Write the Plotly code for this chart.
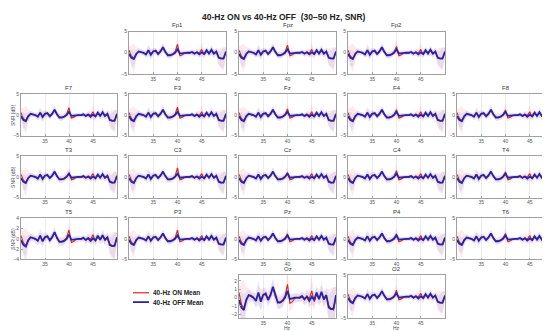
import plotly.graph_objects as go

# ---------------- data ----------------
freqs = [30 + 0.5 * i for i in range(41)]

off_mean = [-0.3, -1.2, -1.5, -0.3, 0.3, 0.2, 0.0, -0.4, 0.6, -0.5,
            0.3, 0.5, -0.3, 0.3, 1.3, 0.2, -0.6, -0.6, -0.4, 0.0,
            0.8, -0.2, -0.1, 0.0, 0.0, 0.0, 0.2, -0.2, 0.1, -0.4,
            0.1, -0.3, 0.6, -0.2, 0.7, -0.2, 0.3, -1.2, -1.4, -1.3, 0.3]
on_mean = [0.6, -0.8, -1.3, -0.2, 0.3, 0.1, 0.0, -0.3, 0.5, -0.3,
           0.4, 0.3, -0.1, 0.4, 1.2, 0.1, -0.5, -0.5, -0.3, 0.2,
           2.0, -0.7, -0.5, -0.1, 0.0, -0.1, 0.1, -0.3, 0.2, -0.1,
           0.8, -0.5, 0.4, -0.1, 0.5, -0.3, 0.2, -1.0, -1.3, -1.5, 0.2]
on_sd = [1.0, 2.5, 3.5, 1.5, 0.8, 0.6, 0.6, 0.9, 1.0, 1.2,
         0.8, 0.7, 0.8, 0.8, 1.0, 0.7, 0.8, 0.9, 0.8, 0.8,
         1.5, 1.0, 0.8, 0.6, 0.5, 0.5, 0.6, 0.7, 0.8, 1.0,
         1.6, 1.0, 0.8, 0.8, 1.0, 0.9, 0.9, 2.0, 2.5, 2.8, 1.0]
off_sd = [0.8, 2.0, 1.8, 1.0, 0.7, 0.6, 0.6, 0.8, 1.5, 1.2,
          0.8, 0.7, 0.8, 0.8, 1.0, 0.8, 0.8, 0.7, 0.7, 0.7,
          0.9, 0.7, 0.6, 0.5, 0.5, 0.5, 0.6, 0.7, 0.7, 0.8,
          0.9, 0.8, 0.8, 0.8, 1.2, 0.9, 0.8, 1.5, 2.0, 2.5, 1.0]

channels = ["Fp1", "Fpz", "Fp2",
            "F7", "F3", "Fz", "F4", "F8",
            "T3", "C3", "Cz", "C4", "T4",
            "T5", "P3", "Pz", "P4", "T6",
            "Oz", "O2"]
grid_rows = [0, 0, 0, 1, 1, 1, 1, 1, 2, 2, 2, 2, 2, 3, 3, 3, 3, 3, 4, 4]
grid_cols = [1, 2, 3, 0, 1, 2, 3, 4, 0, 1, 2, 3, 4, 0, 1, 2, 3, 4, 2, 3]
on_peak_40 = [2.0, 1.8, 1.5, 1.8, 1.9, 1.5, 1.3, 1.2, 1.0, 2.2,
              1.0, 1.5, 1.2, 1.7, 2.1, 1.2, 1.2, 1.3, 1.6, 1.5]
y_ranges = {"T5": [-4, 4], "Oz": [-2.5, 2.7]}
y_ticks = {"T5": [-4, -2, 0, 2, 4], "Oz": [-2, -1, 0, 1, 2]}
default_range = [-5, 5]
default_ticks = [-5, 0, 5]
x_ticks = [35, 40, 45]

title_text = "40-Hz ON vs 40-Hz OFF  (30\u201350 Hz, SNR)"
legend_labels = ["40-Hz ON Mean", "40-Hz OFF Mean"]

# ---------------- styling / layout geometry ----------------
W, H = 550, 331
col_px = [(13, 109), (121, 218), (231, 328), (340, 437), (449, 546)]
row_px = [(21, 64), (85, 127), (148, 190), (211, 253), (269, 313)]
RED = "rgb(205,40,40)"
BLUE = "rgb(40,35,165)"
RED_FILL = "rgba(235,90,90,0.12)"
BLUE_FILL = "rgba(90,110,235,0.12)"
FONT = "Liberation Sans, Arial, sans-serif"

fig = go.Figure()
layout = dict(
    width=W, height=H, margin=dict(l=0, r=0, t=0, b=0),
    paper_bgcolor="white", plot_bgcolor="white", showlegend=False,
    font=dict(family=FONT, size=5, color="#444"),
)
annotations = []
shapes = []

for k, ch in enumerate(channels):
    idx = k + 1
    xa = "x" if idx == 1 else f"x{idx}"
    ya = "y" if idx == 1 else f"y{idx}"
    r, c = grid_rows[k], grid_cols[k]
    x0, x1 = col_px[c]
    y0, y1 = row_px[r]

    on = list(on_mean)
    on[20] = on_peak_40[k]
    on_hi = [m + s for m, s in zip(on, on_sd)]
    on_lo = [m - s for m, s in zip(on, on_sd)]
    off_hi = [m + s for m, s in zip(off_mean, off_sd)]
    off_lo = [m - s for m, s in zip(off_mean, off_sd)]

    fig.add_trace(go.Scatter(x=freqs + freqs[::-1], y=on_hi + on_lo[::-1],
                             fill="toself", fillcolor=RED_FILL, line=dict(width=0),
                             mode="lines", hoverinfo="skip", xaxis=xa, yaxis=ya))
    fig.add_trace(go.Scatter(x=freqs + freqs[::-1], y=off_hi + off_lo[::-1],
                             fill="toself", fillcolor=BLUE_FILL, line=dict(width=0),
                             mode="lines", hoverinfo="skip", xaxis=xa, yaxis=ya))
    fig.add_trace(go.Scatter(x=freqs, y=on, mode="lines",
                             line=dict(color=RED, width=1.1), xaxis=xa, yaxis=ya))
    fig.add_trace(go.Scatter(x=freqs, y=off_mean, mode="lines",
                             line=dict(color=BLUE, width=1.8), xaxis=xa, yaxis=ya))

    key_x = "xaxis" if idx == 1 else f"xaxis{idx}"
    key_y = "yaxis" if idx == 1 else f"yaxis{idx}"
    layout[key_x] = dict(
        domain=[x0 / W, x1 / W], anchor=ya, range=[30, 50],
        tickvals=x_ticks, showgrid=True, gridcolor="#ececec", gridwidth=0.6,
        showline=True, mirror=True, linecolor="#a0a0a0", linewidth=0.8,
        ticks="inside", ticklen=2, tickcolor="#a0a0a0", zeroline=False,
        tickfont=dict(size=5, color="#555"), fixedrange=True,
    )
    layout[key_y] = dict(
        domain=[1 - y1 / H, 1 - y0 / H], anchor=xa,
        range=y_ranges.get(ch, default_range),
        tickvals=y_ticks.get(ch, default_ticks), showgrid=False,
        showline=True, mirror=True, linecolor="#a0a0a0", linewidth=0.8,
        ticks="inside", ticklen=2, tickcolor="#a0a0a0", zeroline=False,
        tickfont=dict(size=5, color="#555"), fixedrange=True,
    )
    annotations.append(dict(text=ch, x=(x0 + x1) / 2 / W, y=1 - (y0 - 1.5) / H,
                            xref="paper", yref="paper", xanchor="center", yanchor="bottom",
                            showarrow=False, font=dict(size=6, color="#333")))
    if c == 0:
        annotations.append(dict(text="SNR (dB)", x=5 / W, y=1 - (y0 + y1) / 2 / H,
                                xref="paper", yref="paper", xanchor="center", yanchor="middle",
                                textangle=-90, showarrow=False, font=dict(size=5, color="#444")))
    if r == 4:
        annotations.append(dict(text="Hz", x=(x0 + x1) / 2 / W, y=1 - 323 / H,
                                xref="paper", yref="paper", xanchor="center", yanchor="middle",
                                showarrow=False, font=dict(size=5, color="#444")))

# main title
annotations.append(dict(text=f"<b>{title_text}</b>", x=276 / W, y=1 - 6 / H,
                        xref="paper", yref="paper", xanchor="center", yanchor="middle",
                        showarrow=False, font=dict(size=8.5, color="#222")))

# manual legend
for i, (lab, col) in enumerate(zip(legend_labels, [RED, BLUE])):
    yy = 1 - (287 + 9.5 * i) / H
    shapes.append(dict(type="line", xref="paper", yref="paper",
                       x0=125 / W, x1=141 / W, y0=yy, y1=yy,
                       line=dict(color=col, width=1.2 if i == 0 else 1.8)))
    annotations.append(dict(text=f"<b>{lab}</b>", x=143 / W, y=yy,
                            xref="paper", yref="paper", xanchor="left", yanchor="middle",
                            showarrow=False, font=dict(size=6.5, color="#222")))

layout["annotations"] = annotations
layout["shapes"] = shapes
fig.update_layout(**layout)
fig.write_html("out.html")
